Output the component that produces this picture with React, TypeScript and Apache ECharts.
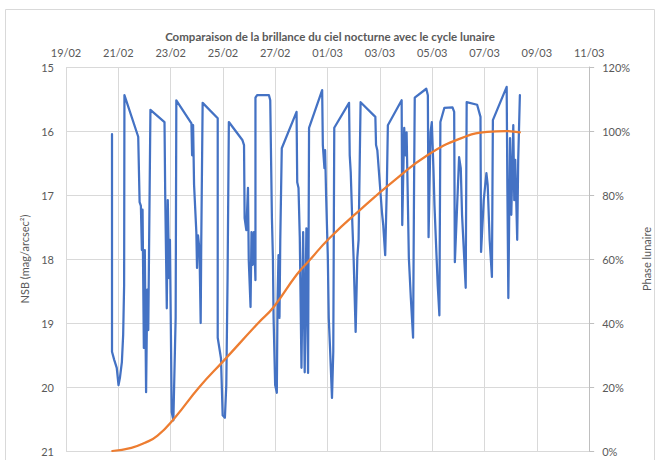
import React, { useEffect, useRef } from "react";
import * as echarts from "echarts";

const dateLabels = ["19/02", "21/02", "23/02", "25/02", "27/02", "01/03", "03/03", "05/03", "07/03", "09/03", "11/03"];

// NSB series: time (days since 19/02) and brightness (mag/arcsec²)
const nsbDays = [
  1.759, 1.759, 1.846, 1.94, 2.008, 2.06, 2.136, 2.185, 2.222, 2.234,
  2.761, 2.814, 2.863, 2.9, 2.927, 2.976, 3.013, 3.062, 3.107, 3.145,
  3.228, 3.766, 3.793, 3.853, 3.891, 3.944, 3.974, 4.041, 4.105, 4.169,
  4.192, 4.218, 4.795, 4.821, 4.859, 4.896, 4.983, 5.009, 5.047, 5.104,
  5.149, 5.171, 5.224, 5.8, 5.8, 5.925, 5.989, 6.075, 6.128, 6.177,
  6.226, 6.742, 6.806, 6.829, 6.893, 6.957, 6.987, 7.055, 7.092, 7.137,
  7.183, 7.243, 7.243, 7.307, 7.759, 7.808, 7.872, 7.91, 7.936, 7.996,
  8.06, 8.087, 8.124, 8.162, 8.192, 8.249, 8.814, 8.84, 8.889, 8.938,
  9.002, 9.066, 9.126, 9.19, 9.254, 9.292, 9.793, 9.819, 9.88, 9.906,
  9.944, 10.008, 10.045, 10.094, 10.169, 10.218, 10.256, 10.821, 10.847, 10.885,
  10.949, 10.998, 11.073, 11.137, 11.186, 11.262, 11.827, 11.853, 11.902, 12.079,
  12.128, 12.203, 12.267, 12.305, 12.832, 12.855, 12.93, 12.976, 13.021, 13.058,
  13.107, 13.183, 13.269, 13.307, 13.333, 13.774, 13.834, 13.861, 13.936, 13.985,
  14.049, 14.087, 14.211, 14.275, 14.313, 14.463, 14.776, 14.84, 14.866, 15.028,
  15.092, 15.141, 15.281, 15.318, 15.718, 15.846, 15.868, 15.97, 16.072, 16.121,
  16.196, 16.283, 16.32, 16.847, 16.874, 16.911, 16.975, 17.024, 17.1, 17.137,
  17.175, 17.25, 17.288, 17.352,
];
const nsbValues = [
  16.05, 19.45, 19.58, 19.7, 19.97, 19.86, 19.61, 19.19, 18.41, 15.44,
  16.09, 17.11, 17.17, 17.86, 17.23, 19.39, 17.86, 20.08, 18.48, 19.11,
  15.67, 15.86, 17.0, 18.77, 17.08, 18.3, 17.7, 20.39, 20.52, 19.34,
  18.92, 15.52, 15.88, 16.38, 15.91, 16.84, 17.58, 18.14, 17.63, 17.86,
  19.0, 17.73, 15.56, 15.8, 19.23, 19.55, 20.44, 20.48, 19.97, 18.3,
  15.86, 16.14, 16.22, 17.36, 17.55, 16.89, 18.02, 18.75, 17.58, 18.09,
  17.58, 18.33, 15.48, 15.44, 15.44, 15.52, 17.36, 17.98, 18.92, 19.97,
  20.09, 18.67, 17.94, 18.92, 17.7, 16.27, 15.7, 16.8, 16.89, 17.67,
  19.7, 17.58, 19.77, 17.52, 19.78, 15.95, 15.36, 16.22, 16.58, 16.3,
  17.0, 17.94, 18.92, 19.39, 20.17, 19.45, 15.95, 15.56, 16.38, 16.64,
  17.47, 18.02, 19.14, 17.98, 17.7, 15.55, 15.78, 16.22, 16.3, 17.27,
  17.47, 17.94, 16.84, 15.91, 15.52, 17.47, 15.95, 16.38, 16.02, 16.84,
  17.98, 18.61, 19.23, 16.84, 15.48, 15.34, 15.44, 17.66, 16.02, 15.86,
  16.61, 17.16, 18.41, 18.88, 15.86, 15.64, 15.63, 15.7, 18.05, 16.41,
  16.58, 17.31, 18.45, 15.55, 15.59, 15.78, 17.89, 17.08, 16.66, 16.84,
  17.7, 18.28, 15.83, 15.31, 16.89, 18.61, 16.11, 17.31, 15.91, 17.08,
  16.45, 17.7, 16.45, 15.44,
];

// Moon phase series (%)
const phaseDays = [1.77, 2.5, 3.0, 3.5, 4.17, 5.1, 6.05, 7.35, 7.94, 8.81, 9.3, 10.07, 11.33, 12.58, 13.83, 15.09, 16.1, 16.8, 17.35];
const phaseValues = [0, 1, 2.5, 4.8, 10.5, 20, 28.4, 40, 45, 55, 59.5, 66.5, 76, 84.7, 92.5, 97.7, 99.7, 100, 99.6];

const FONT = "Lato, 'Liberation Sans', sans-serif";
const TXT = "#595959";
const GRID = "#d9d9d9";

export default function App() {
  const ref = useRef<HTMLDivElement>(null);
  useEffect(() => {
    document.body.style.margin = "0";
    const chart = echarts.init(ref.current!, null, { renderer: "svg" });
    chart.setOption({
      animation: false,
      backgroundColor: "#ffffff",
      textStyle: { fontFamily: FONT },
      title: {
        text: "Comparaison de la brillance du ciel nocturne avec le cycle lunaire",
        left: "center",
        top: 25,
        textStyle: { fontFamily: FONT, fontSize: 11.5, fontWeight: "bold", color: TXT },
      },
      graphic: [
        {
          type: "rect",
          shape: { x: 5.5, y: 9.5, width: 649, height: 470 },
          style: { fill: "none", stroke: GRID, lineWidth: 1 },
          silent: true,
        },
      ],
      grid: { left: 66, right: 62, top: 67, bottom: 9 },
      xAxis: {
        type: "value",
        position: "top",
        min: 0,
        max: 20,
        interval: 2,
        axisLine: { show: false },
        axisTick: { show: false },
        axisLabel: {
          color: TXT,
          fontSize: 11,
          fontFamily: FONT,
          margin: 9,
          formatter: (v: number) => dateLabels[Math.round(v / 2)] ?? "",
        },
        splitLine: { show: true, lineStyle: { color: GRID, width: 1 } },
      },
      yAxis: [
        {
          type: "value",
          inverse: true,
          min: 15,
          max: 21,
          interval: 1,
          name: "NSB (mag/arcsec²)",
          nameLocation: "middle",
          nameGap: 30,
          nameTextStyle: { color: TXT, fontSize: 11, fontFamily: FONT },
          axisLine: { show: false },
          axisTick: { show: false },
          axisLabel: { color: TXT, fontSize: 11, fontFamily: FONT, margin: 12 },
          splitLine: { show: true, lineStyle: { color: GRID, width: 1 } },
        },
        {
          type: "value",
          position: "right",
          min: 0,
          max: 120,
          interval: 20,
          name: "Phase lunaire",
          nameLocation: "middle",
          nameGap: 46,
          nameTextStyle: { color: TXT, fontSize: 11, fontFamily: FONT },
          axisLine: { show: true, lineStyle: { color: "#bfbfbf", width: 1 } },
          axisTick: { show: true, length: 5, lineStyle: { color: "#bfbfbf" } },
          axisLabel: { color: TXT, fontSize: 11, fontFamily: FONT, margin: 13, formatter: "{value}%" },
          splitLine: { show: false },
        },
      ],
      series: [
        {
          type: "line",
          name: "NSB",
          yAxisIndex: 0,
          showSymbol: false,
          data: nsbDays.map((d, i) => [d, nsbValues[i]]),
          lineStyle: { color: "#4472C4", width: 2.25, join: "round", cap: "round" },
          itemStyle: { color: "#4472C4" },
          z: 2,
        },
        {
          type: "line",
          name: "Phase",
          yAxisIndex: 1,
          showSymbol: false,
          smooth: true,
          data: phaseDays.map((d, i) => [d, phaseValues[i]]),
          lineStyle: { color: "#ED7D31", width: 2.25, cap: "round" },
          itemStyle: { color: "#ED7D31" },
          z: 3,
        },
      ],
    });
    return () => chart.dispose();
  }, []);
  return <div ref={ref} style={{ width: 660, height: 460 }} />;
}
